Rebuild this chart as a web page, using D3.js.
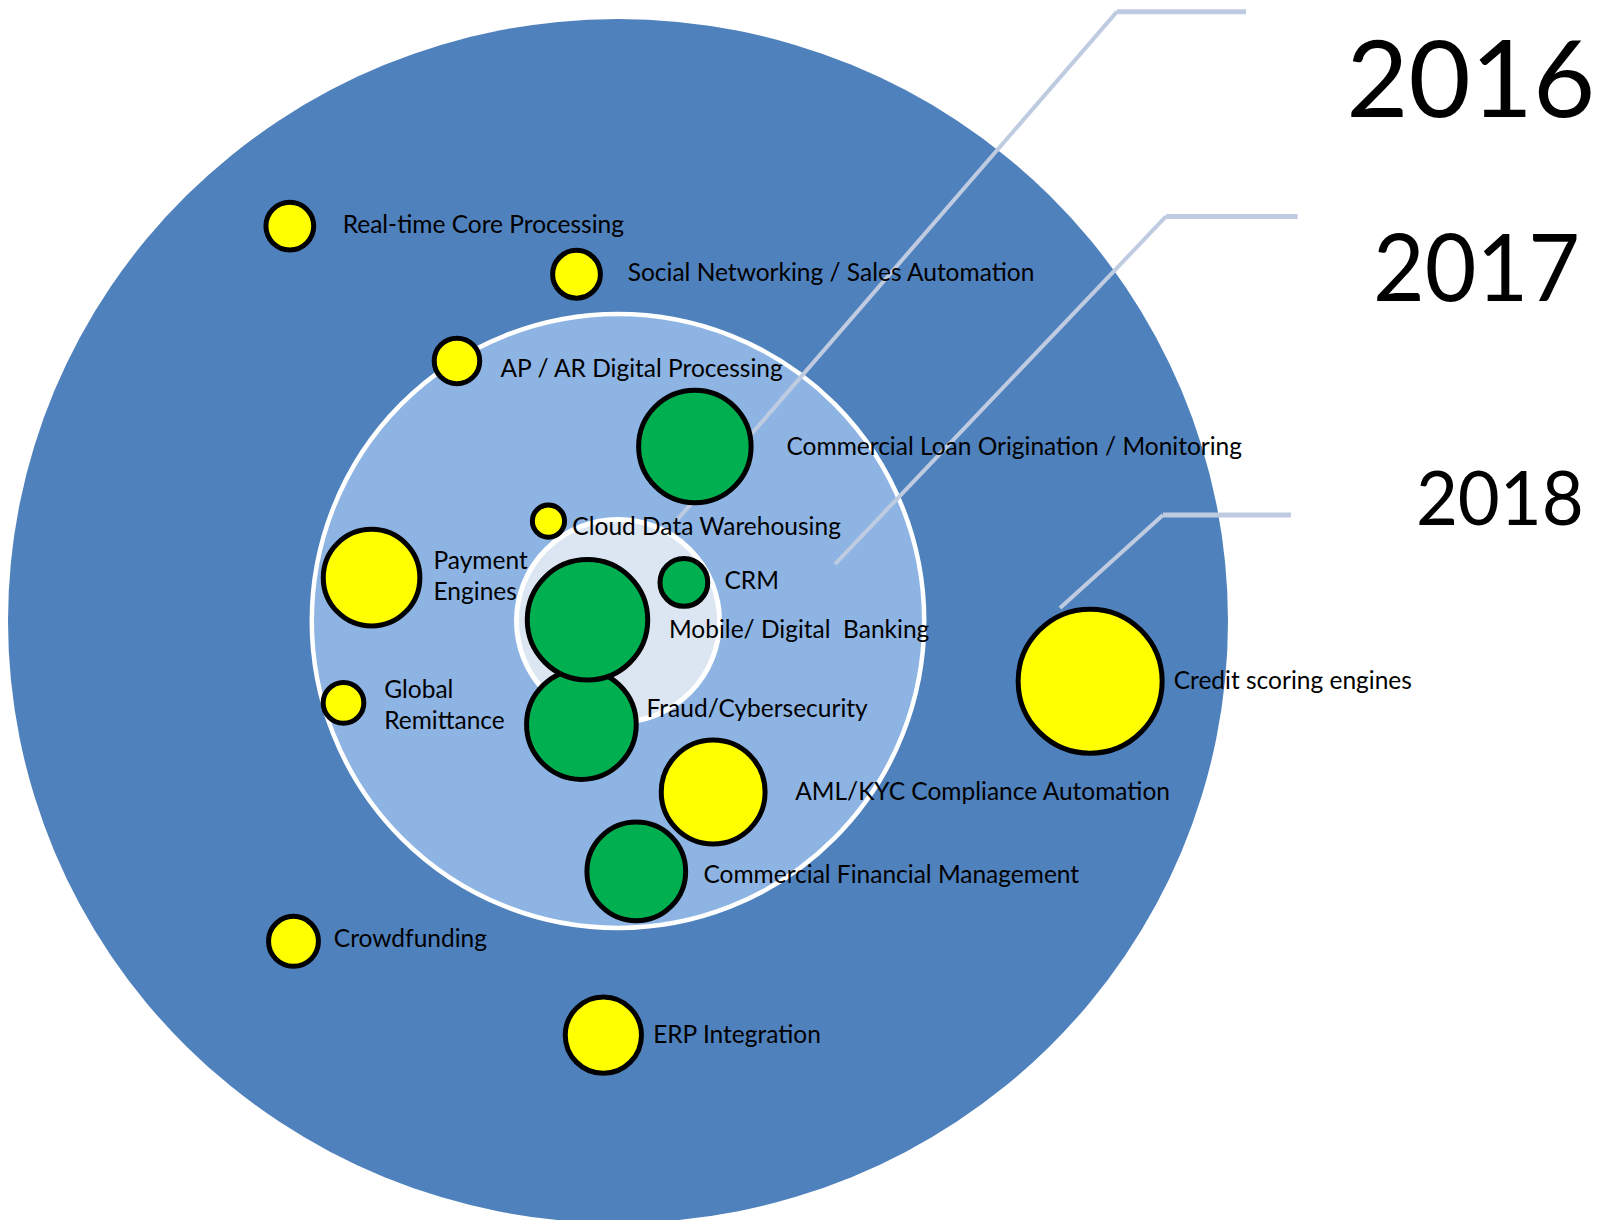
<!DOCTYPE html>
<html>
<head>
<meta charset="utf-8">
<title>Technology Adoption Target</title>
<script src="https://cdn.jsdelivr.net/npm/d3@7"></script>
<style>
  html, body { margin: 0; padding: 0; background: #ffffff; }
  svg { display: block; }
  text { font-family: Lato, "Open Sans", "Noto Sans", sans-serif; fill: #000; }
</style>
</head>
<body>
<svg id="chart" width="1606" height="1220"></svg>
<script>
// ---- Data (plot units: 0–100 across the outer ring on each axis) ----
const technologies = [
  "Real-time Core Processing",
  "Social Networking / Sales Automation",
  "AP / AR Digital Processing",
  "Commercial Loan Origination / Monitoring",
  "Cloud Data Warehousing",
  "Payment\nEngines",
  "CRM",
  "Fraud/Cybersecurity",
  "Mobile/ Digital  Banking",
  "Global\nRemittance",
  "AML/KYC Compliance Automation",
  "Commercial Financial Management",
  "Crowdfunding",
  "ERP Integration",
  "Credit scoring engines"
];
const groups = ["emerging", "emerging", "emerging", "core", "emerging", "emerging", "core", "core",
                "core", "emerging", "emerging", "core", "emerging", "emerging", "emerging"];
const xValues = [23.1, 46.6, 36.8, 56.3, 44.3, 29.8, 55.4, 47.0, 47.5, 27.5, 57.8, 51.5, 23.4, 48.8, 88.7];
const yValues = [17.2, 21.2, 28.4, 35.5, 41.7, 46.4, 46.8, 58.6, 49.9, 56.8, 64.2, 70.8, 76.6, 84.4, 55.0];
const sizeValues = [11, 11, 10, 61, 5, 45, 11, 58, 70, 8, 52, 47, 12, 28, 100];
const labelX = [27.43, 50.80, 40.37, 63.81, 46.26, 34.88, 58.73, 52.34, 54.18, 30.84, 64.52, 57.00, 26.71, 52.88, 95.55];
const labelY = [17.80, 21.80, 29.75, 36.21, 42.83, 45.72, 47.38, 57.95, 51.40, 56.40, 64.90, 71.72, 77.10, 85.02, 55.67];

// Concentric rings (horizontal and vertical radius in plot units)
const ringNames = ["2018", "2017", "2016"];
const ringRx = [50, 25.1, 8.32];
const ringRy = [50, 25.5, 8.43];

// Year callouts: inner end point, elbow, outer end, label anchor
const years = ["2016", "2017", "2018"];
const calloutEndX = [54.84, 67.79, 86.23];
const calloutEndY = [41.61, 45.27, 48.92];
const elbowX = [90.90, 94.92, 94.67];
const elbowY = [-0.61, 16.40, 41.20];
const tailX = [101.48, 105.70, 105.16];
const yearLabelX = [109.7, 111.89, 115.4];
const yearLabelY = [8.18, 23.42, 42.03];

// ---- Scales ----
const x = d3.scaleLinear().domain([0, 100]).range([8, 1228]);
const y = d3.scaleLinear().domain([0, 100]).range([19, 1223]);
const r = d3.scaleSqrt().domain([0, 100]).range([0, 72]);
const fill = d3.scaleOrdinal().domain(["emerging", "core"]).range(["#ffff00", "#00b050"]);
const ringFill = d3.scaleOrdinal().domain(ringNames).range(["#4f81bd", "#8eb4e3", "#dce6f2"]);
const yearFont = d3.scaleOrdinal().domain(years).range([107, 93, 76]);
const yearWidth = d3.scaleOrdinal().domain(years).range([249, 207, 168]);

const svg = d3.select("#chart");

// ---- Rings ----
const cx = 50, cy = 50;
svg.append("g").attr("class", "rings")
  .selectAll("ellipse")
  .data(ringNames.map((n, i) => ({ name: n, rx: ringRx[i], ry: ringRy[i] })))
  .join("ellipse")
  .attr("cx", x(cx))
  .attr("cy", y(cy))
  .attr("rx", d => x(cx + d.rx) - x(cx))
  .attr("ry", d => y(cy + d.ry) - y(cy))
  .attr("fill", d => ringFill(d.name))
  .attr("stroke", (d, i) => i === 0 ? "none" : "#ffffff")
  .attr("stroke-width", (d, i) => i === 2 ? 5 : 4.5);

// ---- Callout lines ----
const callouts = years.map((yr, i) => ({
  year: yr,
  ex: calloutEndX[i], ey: calloutEndY[i],
  bx: elbowX[i], by: elbowY[i],
  tx: tailX[i],
  lx: yearLabelX[i], ly: yearLabelY[i]
}));
const cg = svg.append("g").attr("class", "callouts");
cg.selectAll("line.diag")
  .data(callouts)
  .join("line")
  .attr("class", "diag")
  .attr("x1", d => x(d.ex)).attr("y1", d => y(d.ey))
  .attr("x2", d => x(d.bx)).attr("y2", d => y(d.by))
  .attr("stroke", "#bfcbe1").attr("stroke-width", 4);
cg.selectAll("line.tail")
  .data(callouts)
  .join("line")
  .attr("class", "tail")
  .attr("x1", d => x(d.bx)).attr("y1", d => y(d.by))
  .attr("x2", d => x(d.tx)).attr("y2", d => y(d.by))
  .attr("stroke", "#bfcbe1").attr("stroke-width", 5);

// ---- Bubbles ----
const items = technologies.map((t, i) => ({
  name: t, group: groups[i], x: xValues[i], y: yValues[i], size: sizeValues[i],
  lx: labelX[i], ly: labelY[i]
}));
svg.append("g").attr("class", "bubbles")
  .selectAll("circle")
  .data(items)
  .join("circle")
  .attr("cx", d => x(d.x))
  .attr("cy", d => y(d.y))
  .attr("r", d => r(d.size))
  .attr("fill", d => fill(d.group))
  .attr("stroke", "#000")
  .attr("stroke-width", 5);

// ---- Labels ----
const lineGap = 31;
const labels = svg.append("g").attr("class", "labels")
  .selectAll("text")
  .data(items)
  .join("text")
  .attr("x", d => x(d.lx))
  .attr("y", d => y(d.ly))
  .attr("font-size", 24.5)
  .attr("xml:space", "preserve")
  .style("white-space", "pre");
labels.selectAll("tspan")
  .data(d => d.name.split("\n").map((s, k) => ({ s, k, x: x(d.lx) })))
  .join("tspan")
  .attr("x", t => t.x)
  .attr("dy", t => t.k === 0 ? 0 : lineGap)
  .text(t => t.s);

// ---- Year labels ----
svg.append("g").attr("class", "years")
  .selectAll("text")
  .data(callouts)
  .join("text")
  .attr("x", d => x(d.lx))
  .attr("y", d => y(d.ly))
  .attr("font-size", d => yearFont(d.year))
  .attr("textLength", d => yearWidth(d.year))
  .attr("lengthAdjust", "spacingAndGlyphs")
  .text(d => d.year);
</script>
</body>
</html>
